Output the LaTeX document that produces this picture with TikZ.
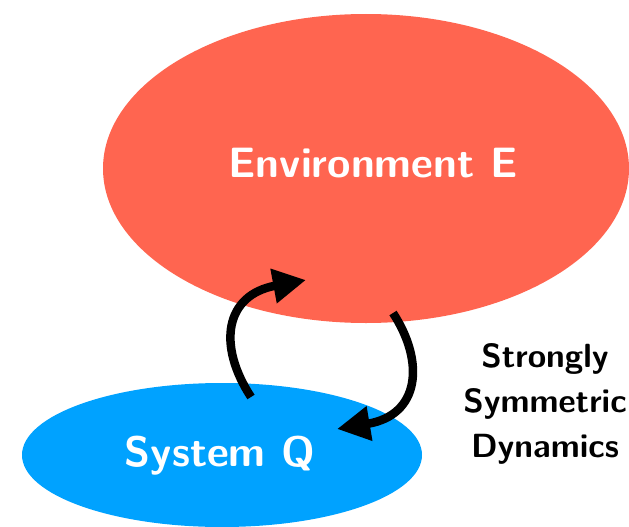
\documentclass[tikz,border=0pt]{standalone}
\usetikzlibrary{shapes.geometric,arrows.meta}
\definecolor{envred}{HTML}{FF6550}
\definecolor{sysblue}{HTML}{00A2FF}
\begin{document}
\begin{tikzpicture}[x=1pt,y=1pt,
  blob/.style={ellipse,inner sep=0pt,draw=none},
  bigtext/.style={text=white,font=\fontsize{42.5}{50}\selectfont\sffamily\bfseries,inner sep=0pt},
  sidetext/.style={text=black,align=center,font=\fontsize{33.5}{45}\selectfont\sffamily\bfseries,inner sep=0pt},
  swap/.style={line width=8.5pt,-{Triangle[length=33pt,width=33pt]}}]
\useasboundingbox (0,0) rectangle (629,-527);

% the two parties
\node[blob,fill=envred,minimum width=526pt,minimum height=309pt] (env) at (366,-168.5) {};
\node[blob,fill=sysblue,minimum width=400pt,minimum height=144pt] (sys) at (222,-455) {};

\node[bigtext,anchor=base] (envlabel) at (373,-177) {Environment E};
\node[bigtext,anchor=base] (syslabel) at (220,-466) {System Q};

% arrow ends inside the ellipses
\coordinate (qout) at (251,-397);
\coordinate (ein)  at (306,-280);
\coordinate (eout) at (393,-313);
\coordinate (qin)  at (337,-429);

\draw[swap] (qout) .. controls (217,-345) and (225,-295) .. (ein);
\draw[swap] (eout) .. controls (425,-362) and (420,-415) .. (qin);

\node[sidetext] (dyn) at (545,-403.5) {Strongly\\Symmetric\\Dynamics};
\end{tikzpicture}
\end{document}
